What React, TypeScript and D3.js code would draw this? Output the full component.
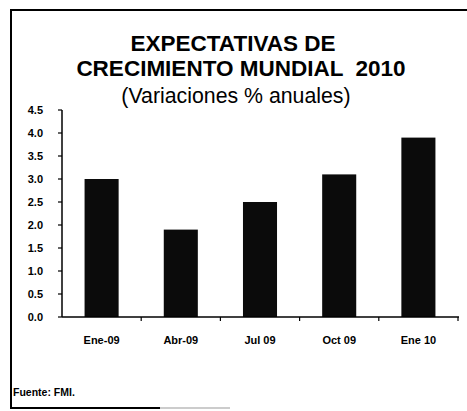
import React from "react";
import * as d3 from "d3";

const categories = ["Ene-09", "Abr-09", "Jul 09", "Oct 09", "Ene 10"];
const values = [3.0, 1.9, 2.5, 3.1, 3.9];
const yTickValues = [0, 0.5, 1, 1.5, 2, 2.5, 3, 3.5, 4, 4.5];
const titleLines = ["EXPECTATIVAS DE", "CRECIMIENTO MUNDIAL  2010"];
const subtitle = "(Variaciones % anuales)";
const source = "Fuente: FMI.";

const W = 467;
const H = 411;
const FONT = "'Liberation Sans', Arial, Helvetica, sans-serif";

export default function App() {
  const x = d3
    .scaleBand<string>()
    .domain(categories)
    .range([62, 458])
    .paddingInner(0.57)
    .paddingOuter(0.285);
  const y = d3.scaleLinear().domain([0, 4.5]).range([317, 110]);
  const step = x.step();
  const boundaries = categories.map((c) => (x(c) as number) - (step - x.bandwidth()) / 2 + step);
  const titleX = [233, 241];

  return (
    <svg
      width={W}
      height={H}
      style={{ position: "absolute", left: 0, top: 0, background: "#fff" }}
      fontFamily={FONT}
    >
      <rect x={0} y={0} width={W} height={H} fill="#fff" />
      {/* frame */}
      <line x1={10} y1={10} x2={W} y2={10} stroke="#000" strokeWidth={2} />
      <line x1={11} y1={10} x2={11} y2={409} stroke="#000" strokeWidth={2} />
      <line x1={10} y1={408} x2={160} y2={408} stroke="#000" strokeWidth={2} />
      <line x1={160} y1={408} x2={230} y2={408} stroke="#bbb" strokeWidth={1.5} />

      {/* title */}
      <g textAnchor="middle" fontWeight="bold" fontSize={22.5} fill="#000">
        {titleLines.map((t, i) => (
          <text key={i} x={titleX[i]} y={51 + i * 25} style={{ whiteSpace: "pre" }}>
            {t}
          </text>
        ))}
      </g>
      <text x={236} y={103} textAnchor="middle" fontSize={21.3} fill="#000">
        {subtitle}
      </text>

      {/* bars */}
      {categories.map((c, i) => (
        <rect
          key={c}
          x={x(c)}
          y={y(values[i])}
          width={x.bandwidth()}
          height={y(0) - y(values[i])}
          fill="#0b0b0b"
        />
      ))}

      {/* y axis */}
      <line x1={62} y1={y(4.5)} x2={62} y2={y(0)} stroke="#000" strokeWidth={1.5} />
      {yTickValues.map((v) => (
        <g key={v}>
          <line x1={58} y1={y(v)} x2={62} y2={y(v)} stroke="#000" strokeWidth={1.2} />
          <text
            x={43}
            y={y(v)}
            dy="0.36em"
            textAnchor="end"
            fontWeight="bold"
            fontSize={11}
            fill="#000"
          >
            {v.toFixed(1)}
          </text>
        </g>
      ))}

      {/* x axis */}
      <line x1={62} y1={y(0)} x2={459} y2={y(0)} stroke="#000" strokeWidth={1.5} />
      {boundaries.map((bx, i) => (
        <line key={i} x1={bx} y1={y(0)} x2={bx} y2={y(0) + 4} stroke="#000" strokeWidth={1.2} />
      ))}
      {categories.map((c) => (
        <text
          key={c}
          x={(x(c) as number) + x.bandwidth() / 2}
          y={344}
          textAnchor="middle"
          fontWeight="bold"
          fontSize={11}
          fill="#000"
        >
          {c}
        </text>
      ))}

      {/* source */}
      <text x={13} y={396} fontWeight="bold" fontSize={10.5} fill="#000">
        {source}
      </text>
    </svg>
  );
}
